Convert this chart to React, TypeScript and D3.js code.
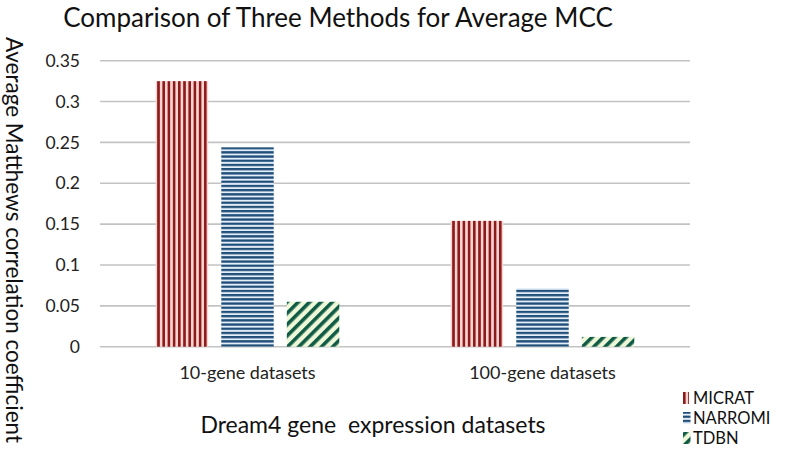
import React from 'react';
import * as d3 from 'd3';

const categories = ['10-gene datasets', '100-gene datasets'];
const methods = ['MICRAT', 'NARROMI', 'TDBN'];
const micrat = [0.325, 0.154];
const narromi = [0.244, 0.0715];
const tdbn = [0.055, 0.012];
const yTicks = [0, 0.05, 0.1, 0.15, 0.2, 0.25, 0.3, 0.35];

const seriesValues: Record<string, number[]> = { MICRAT: micrat, NARROMI: narromi, TDBN: tdbn };

const W = 787;
const H = 454;
const FONT = 'Lato, "Open Sans", sans-serif';

const App = () => {
  const x0 = d3.scaleBand().domain(categories).range([100, 690]);
  const x1 = d3.scaleBand().domain(methods).range([0, x0.bandwidth()]).paddingInner(0.2).paddingOuter(0.85);
  const y = d3.scaleLinear().domain([0, 0.35]).range([346.7, 60.7]);

  const fills: Record<string, string> = {
    MICRAT: 'url(#pat-micrat)',
    NARROMI: 'url(#pat-narromi)',
    TDBN: 'url(#pat-tdbn)',
  };

  return (
    <svg width={W} height={H} style={{ position: 'absolute', left: 0, top: 0, background: '#fff' }} fontFamily={FONT}>
      <defs>
        <pattern id="pat-micrat" patternUnits="userSpaceOnUse" width={5.2} height={10}>
          <rect width={5.2} height={10} fill="#f8d3d0" />
          <rect width={2.6} height={10} fill="#8e1b1b" />
        </pattern>
        <pattern id="pat-narromi" patternUnits="userSpaceOnUse" width={10} height={4.2}>
          <rect width={10} height={4.2} fill="#e4eef8" />
          <rect width={10} height={2.3} fill="#1f4e79" />
        </pattern>
        <pattern id="pat-tdbn" patternUnits="userSpaceOnUse" width={8} height={8} patternTransform="rotate(45)">
          <rect width={8} height={8} fill="#eef7d8" />
          <rect width={3.6} height={8} fill="#0f5a44" />
        </pattern>
      </defs>

      <text x={338} y={27} textAnchor="middle" fontSize={26} fill="#111">
        Comparison of Three Methods for Average MCC
      </text>

      {/* gridlines + tick labels */}
      {yTicks.map((t) => (
        <g key={t}>
          <line x1={100} x2={690} y1={y(t)} y2={y(t)} stroke="#c3c3c3" strokeWidth={1.6} />
          <text x={80} y={y(t)} dy="0.35em" textAnchor="end" fontSize={17.5} fill="#222">
            {d3.format('')(t)}
          </text>
        </g>
      ))}

      {/* bars */}
      {categories.map((c, ci) => (
        <g key={c} transform={`translate(${x0(c)},0)`}>
          {methods.map((m) => {
            const v = seriesValues[m][ci];
            return (
              <rect
                key={m}
                x={x1(m)}
                y={y(v)}
                width={x1.bandwidth()}
                height={y(0) - y(v)}
                fill={fills[m]}
              />
            );
          })}
        </g>
      ))}

      {/* category labels */}
      {categories.map((c) => (
        <text key={c} x={(x0(c) ?? 0) + x0.bandwidth() / 2} y={379} textAnchor="middle" fontSize={18} fill="#222">
          {c}
        </text>
      ))}

      <text x={373} y={433} textAnchor="middle" fontSize={23} fill="#111" style={{ whiteSpace: 'pre' }}>
        {'Dream4 gene  expression datasets'}
      </text>

      <text
        transform={`translate(6,240) rotate(90)`}
        textAnchor="middle"
        fontSize={22.5}
        fill="#111"
      >
        Average Matthews correlation coefficient
      </text>

      {/* legend */}
      {methods.map((m, i) => (
        <g key={m} transform={`translate(683,${404 + i * 20})`}>
          <rect x={0} y={-12} width={m === 'MICRAT' ? 6 : 7.5} height={12} fill={fills[m]} />
          <text x={10} y={0} fontSize={16.5} fill="#111">
            {m}
          </text>
        </g>
      ))}
    </svg>
  );
};

export default App;
